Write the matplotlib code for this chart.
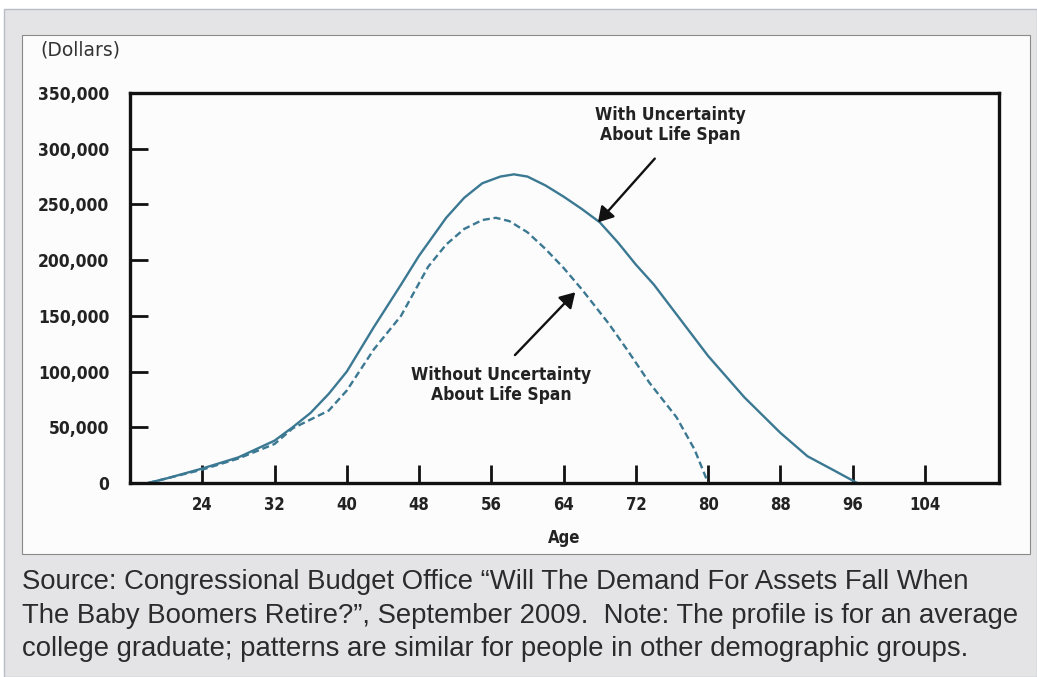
import matplotlib
matplotlib.use('Agg')
import matplotlib.pyplot as plt
from matplotlib.patches import Rectangle

# wealth profile by age, thousands of dollars
ages_with = [18, 20, 24, 28, 32, 34, 36, 38, 40, 43, 46, 48, 51, 53, 55, 57, 58.5, 60, 62, 64, 66, 68, 70,
             72, 74, 77, 80, 84, 88, 91, 94, 96.5]
wealth_with = [0, 4, 13, 23, 38, 50, 63, 80, 100, 140, 178, 204, 238, 256, 269, 275, 277, 275, 267, 257, 246,
               234, 216, 196, 178, 146, 114, 77, 45, 24, 11, 0]

ages_without = [18, 24, 28, 32, 34, 38, 40, 43, 46, 49, 51, 53, 55, 56.5, 58, 60, 62, 64, 66, 69, 71, 73.5,
                76.5, 78.5, 80]
wealth_without = [0, 12, 22, 35, 49, 65, 83, 120, 150, 194, 214, 228, 236, 238, 235, 225, 210, 193, 174, 143,
                  120, 90, 59, 30, 0]

x_ticks = [24, 32, 40, 48, 56, 64, 72, 80, 88, 96, 104]
x_labels = ['24', '32', '40', '48', '56', '64', '72', '80', '88', '96', '104']
y_ticks = [0, 50, 100, 150, 200, 250, 300, 350]
y_labels = ['0', '50,000', '100,000', '150,000', '200,000', '250,000', '300,000', '350,000']

LINE = '#3b7892'
BOLD = dict(family='DejaVu Sans', fontstretch='condensed', fontweight='bold', color='#222')

W, H = 1037, 677
fig = plt.figure(figsize=(W / 100, H / 100), dpi=100)
fig.patch.set_facecolor('white')

# outer grey frame and white chart panel
fig.patches.append(Rectangle((4 / W, 0), 1 - 4 / W, 1 - 9 / H, transform=fig.transFigure,
                             facecolor='#e4e4e6', edgecolor='#b8bcc8', linewidth=1, zorder=-10))
fig.patches.append(Rectangle((22 / W, 1 - 554 / H), (1030 - 22) / W, (554 - 35) / H,
                             transform=fig.transFigure, facecolor='#fcfcfd',
                             edgecolor='#8a8a8a', linewidth=0.8, zorder=-9))

ax = fig.add_axes([130 / W, 1 - 483 / H, (999 - 130) / W, (483 - 93) / H])
ax.set_facecolor('none')

ax.plot(ages_with, wealth_with, color=LINE, lw=1.7, solid_capstyle='round', solid_joinstyle='round')
ax.plot(ages_without, wealth_without, color=LINE, lw=1.7, linestyle=(0, (3, 1.6)))

ax.set_xlim(16, 112.2)
ax.set_ylim(0, 350)
ax.set_xticks(x_ticks)
ax.set_xticklabels(x_labels, **BOLD, fontsize=12)
ax.set_yticks(y_ticks)
ax.set_yticklabels(y_labels, **BOLD, fontsize=12.5)
ax.tick_params(axis='x', direction='in', length=13, width=2, pad=9, color='#111')
ax.tick_params(axis='y', direction='in', length=13, width=2, pad=15, color='#111')
ax.yaxis.get_major_ticks()[0].tick1line.set_visible(False)
ax.yaxis.get_major_ticks()[-1].tick1line.set_visible(False)
for s in ax.spines.values():
    s.set_linewidth(2.4)
    s.set_color('#111')

ax.set_xlabel('Age', **BOLD, fontsize=12, labelpad=11)
fig.text(40 / W, 1 - 50 / H, '(Dollars)', family='DejaVu Sans', fontsize=13.5,
         color='#333', va='center', ha='left')

ax.annotate('', xy=(67.6, 232), xytext=(74.3, 293),
            arrowprops=dict(arrowstyle='-|>,head_length=0.5,head_width=0.3', color='#111', lw=1.7,
                            mutation_scale=18))
ax.text(75.8, 321, 'With Uncertainty\nAbout Life Span', **BOLD, fontsize=12.5,
        ha='center', va='center', linespacing=1.15)

ax.annotate('', xy=(65.5, 173), xytext=(58.4, 113),
            arrowprops=dict(arrowstyle='-|>,head_length=0.5,head_width=0.3', color='#111', lw=1.7,
                            mutation_scale=18))
ax.text(57.1, 88, 'Without Uncertainty\nAbout Life Span', **BOLD, fontsize=12.5,
        ha='center', va='center', linespacing=1.1)

caption = ('Source: Congressional Budget Office \u201cWill The Demand For Assets Fall When\n'
           'The Baby Boomers Retire?\u201d, September 2009.  Note: The profile is for an average\n'
           'college graduate; patterns are similar for people in other demographic groups.')
fig.text(22 / W, 1 - 569 / H, caption, family='Liberation Sans', fontsize=19.8,
         color='#2b2b2b', va='top', ha='left', linespacing=1.38)

fig.savefig('out.png', dpi=100)
